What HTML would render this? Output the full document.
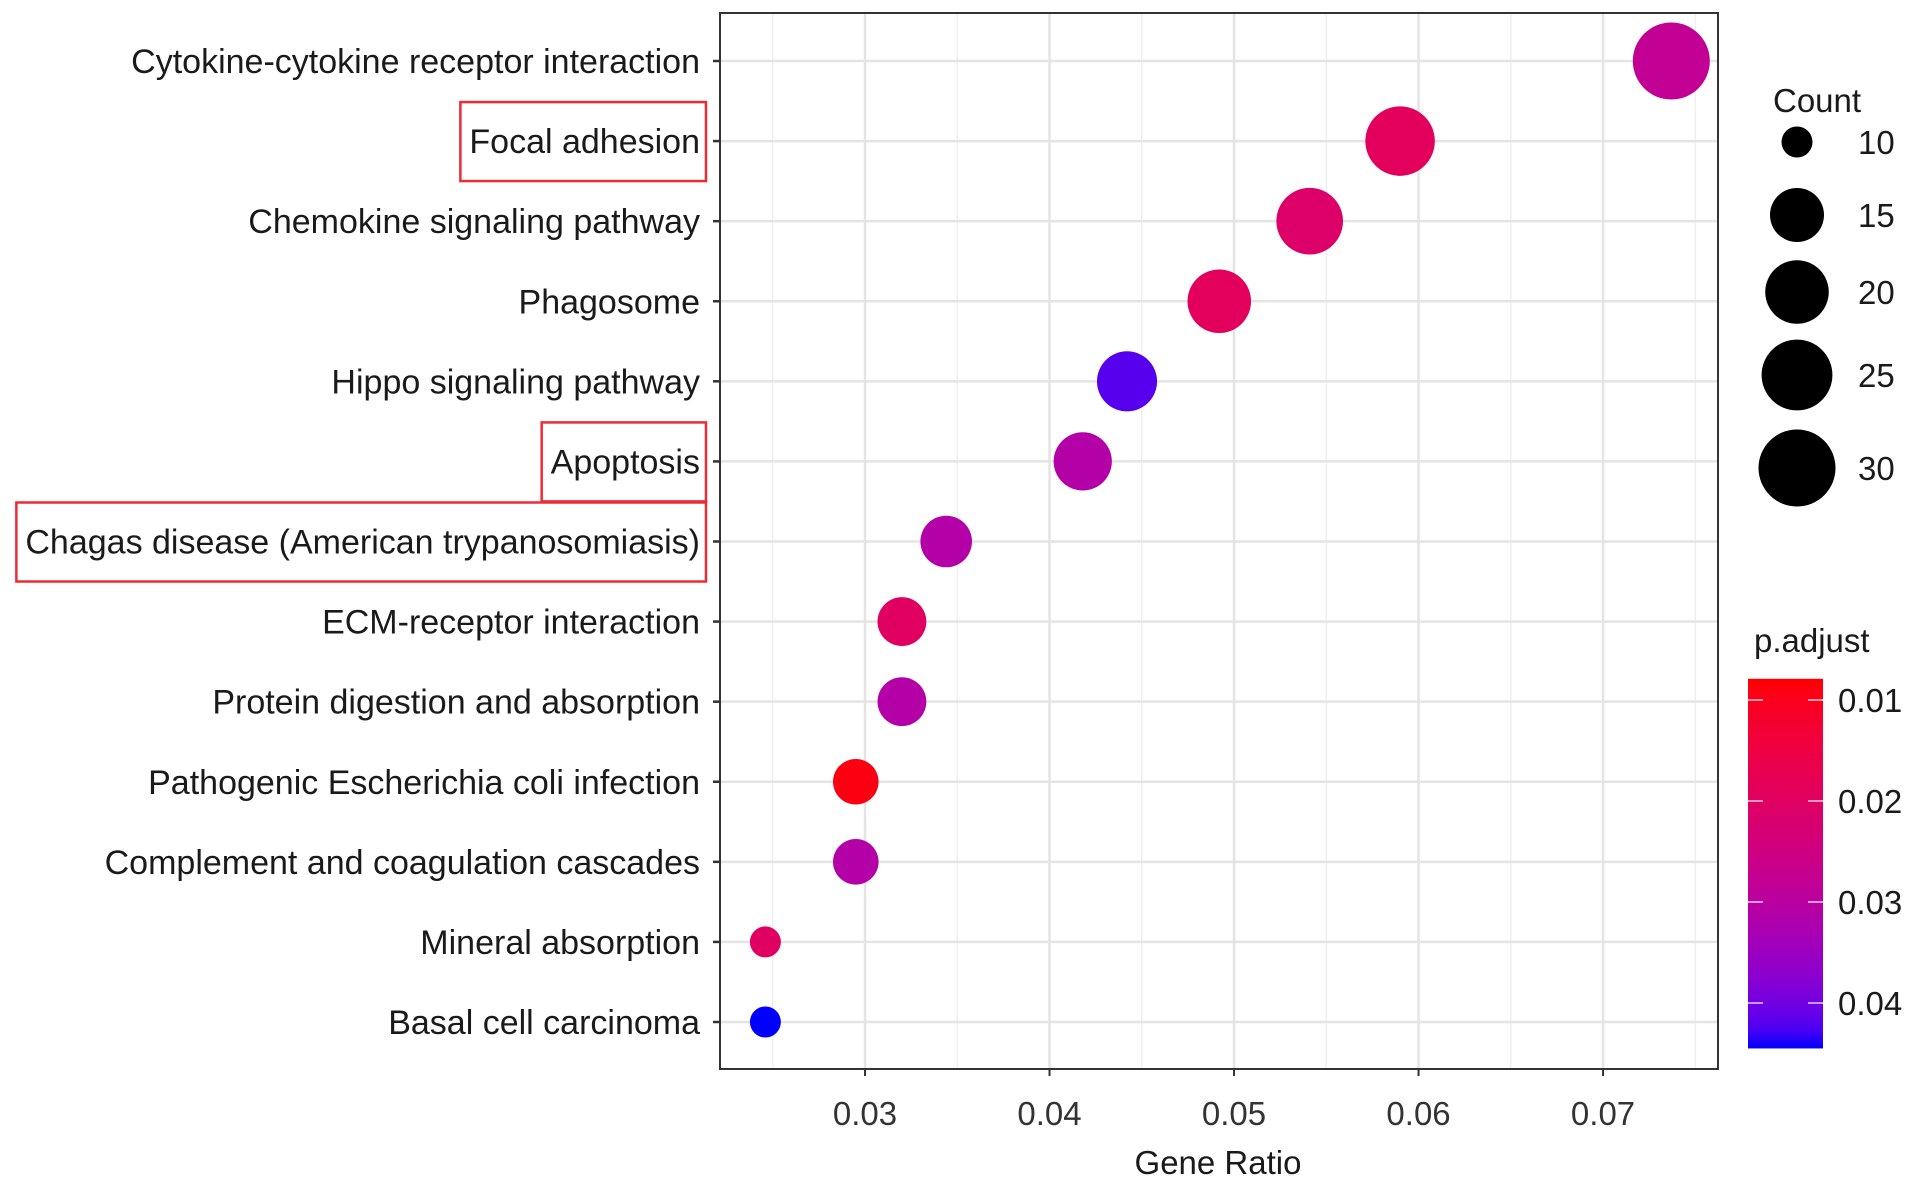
<!DOCTYPE html>
<html><head><meta charset="utf-8"><style>
html,body{margin:0;padding:0;background:#fff;}
svg{display:block;font-family:"Liberation Sans",sans-serif;}
</style></head><body>
<svg id="chart" width="1913" height="1187" viewBox="0 0 1913 1187"></svg>
<script>
const categories = ["Cytokine-cytokine receptor interaction","Focal adhesion","Chemokine signaling pathway","Phagosome","Hippo signaling pathway","Apoptosis","Chagas disease (American trypanosomiasis)","ECM-receptor interaction","Protein digestion and absorption","Pathogenic Escherichia coli infection","Complement and coagulation cascades","Mineral absorption","Basal cell carcinoma"];
const geneRatio = [0.0737,0.0590,0.0541,0.0492,0.0442,0.0418,0.0344,0.0320,0.0320,0.0295,0.0295,0.0246,0.0246];
const counts = [30,24,22,20,18,17,14,13,13,12,12,10,10];
const pAdjust = [0.028,0.019,0.021,0.019,0.042,0.031,0.031,0.020,0.031,0.009,0.031,0.020,0.0445];
const highlighted = ["Focal adhesion","Apoptosis","Chagas disease (American trypanosomiasis)"];
const xTicks = [0.03,0.04,0.05,0.06,0.07];
const xTickLabels = ["0.03","0.04","0.05","0.06","0.07"];
const countBreaks = [10,15,20,25,30];
const pBreaks = [0.01,0.02,0.03,0.04];
const pBreakLabels = ["0.01","0.02","0.03","0.04"];

const NS="http://www.w3.org/2000/svg";
const svg=document.getElementById('chart');
const P={l:720,r:1718,t:13,b:1069};
const xMin=0.02214,xMax=0.07623;
const xS=v=>P.l+(v-xMin)/(xMax-xMin)*(P.r-P.l);
const yS=i=>61+i*(1022-61)/(categories.length-1);
const cMin=10,cMax=30,rMin=15.5,rMax=38.5;
const rS=c=>rMin+(rMax-rMin)*Math.sqrt(Math.max(0,(c-cMin)/(cMax-cMin)));
const pLo=0.0079,pHi=0.0445;
const pyS=p=>700+(p-0.01)/0.01*101;
function toLab(r,g,b){const f=c=>{c/=255;return c>0.04045?Math.pow((c+0.055)/1.055,2.4):c/12.92};r=f(r);g=f(g);b=f(b);
let X=(r*0.4124+g*0.3576+b*0.1805)/0.95047,Y=r*0.2126+g*0.7152+b*0.0722,Z=(r*0.0193+g*0.1192+b*0.9505)/1.08883;
const h=t=>t>0.008856?Math.cbrt(t):7.787*t+16/116;X=h(X);Y=h(Y);Z=h(Z);return[116*Y-16,500*(X-Y),200*(Y-Z)];}
function fromLab(L,a,bb){let Y=(L+16)/116,X=a/500+Y,Z=Y-bb/200;const h=t=>t*t*t>0.008856?t*t*t:(t-16/116)/7.787;
X=h(X)*0.95047;Y=h(Y);Z=h(Z)*1.08883;let r=X*3.2406+Y*-1.5372+Z*-0.4986,g=X*-0.9689+Y*1.8758+Z*0.0415,b=X*0.0557+Y*-0.2040+Z*1.0570;
const f=c=>{c=c>0.0031308?1.055*Math.pow(c,1/2.4)-0.055:12.92*c;return Math.round(Math.max(0,Math.min(1,c))*255)};return `rgb(${f(r)},${f(g)},${f(b)})`;}
const LR=toLab(255,0,0),LB=toLab(0,0,255);
function colS(p){const t=Math.max(0,Math.min(1,(p-pLo)/(pHi-pLo)));return fromLab(LR[0]+(LB[0]-LR[0])*t,LR[1]+(LB[1]-LR[1])*t,LR[2]+(LB[2]-LR[2])*t);}
function el(tag,attrs,parent){const e=document.createElementNS(NS,tag);for(const k in attrs)e.setAttribute(k,attrs[k]);(parent||svg).appendChild(e);return e;}

const bg=el('rect',{x:P.l,y:P.t,width:P.r-P.l,height:P.b-P.t,fill:'#fff'});


for(let i=0;i<xTicks.length+1;i++){const v=xTicks[0]-0.005+i*0.01;const x=xS(v);if(x<P.l||x>P.r)continue;
const g=el('line',{x1:x,x2:x,y1:P.t,y2:P.b,stroke:'#f0f0f0','stroke-width':1.5});

}
xTicks.forEach((v,i)=>{const x=xS(v);
const g=el('line',{x1:x,x2:x,y1:P.t,y2:P.b,stroke:'#e4e4e4','stroke-width':2.5});


const tk=el('line',{x1:x,x2:x,y1:P.b,y2:P.b+7,stroke:'#333','stroke-width':2});


const t=el('text',{x:x,y:1125,'text-anchor':'middle','font-size':33,fill:'#333'});t.textContent=xTickLabels[i];

});
categories.forEach((c,i)=>{const y=yS(i);
const g=el('line',{x1:P.l,x2:P.r,y1:y,y2:y,stroke:'#e4e4e4','stroke-width':2.5});


const tk=el('line',{x1:P.l-7,x2:P.l,y1:y,y2:y,stroke:'#333','stroke-width':2.5});


const t=el('text',{x:700,y:y+12,'text-anchor':'end','font-size':34,fill:'#1a1a1a'});t.textContent=c;


const w=t.getComputedTextLength();
if(w>680)t.setAttribute('textLength',680);
if(highlighted.includes(c)){const ww=Math.min(w,680);
const b=el('rect',{x:700-ww-9,y:y-39,width:ww+15,height:79,fill:'none',stroke:'#ee2a35','stroke-width':2.5});

}});
categories.forEach((c,i)=>{const d=el('circle',{cx:xS(geneRatio[i]),cy:yS(i),r:rS(counts[i]),fill:colS(pAdjust[i])});

});
const br=el('rect',{x:P.l,y:P.t,width:P.r-P.l,height:P.b-P.t,fill:'none',stroke:'#333','stroke-width':2});


const xt=el('text',{x:1218,y:1174,'text-anchor':'middle','font-size':33,fill:'#1a1a1a'});xt.textContent='Gene Ratio';


const st=el('text',{x:1773,y:112,'font-size':33,fill:'#1a1a1a'});st.textContent='Count';


const legY=[142,215,292,375,468];
countBreaks.forEach((c,i)=>{const ci=el('circle',{cx:1797,cy:legY[i],r:rS(c),fill:'#000'});


const t=el('text',{x:1858,y:legY[i]+12,'font-size':33,fill:'#1a1a1a'});t.textContent=String(c);

});
const ct=el('text',{x:1754,y:652,'font-size':33,fill:'#1a1a1a'});ct.textContent='p.adjust';


const defs=el('defs',{});const lg=el('linearGradient',{id:'pg',x1:0,y1:0,x2:0,y2:1},defs);
for(let k=0;k<=20;k++){el('stop',{offset:(k/20),'stop-color':colS(pLo+(pHi-pLo)*k/20)},lg);}
const cb=el('rect',{x:1748,y:pyS(pLo),width:75,height:pyS(pHi)-pyS(pLo),fill:'url(#pg)'});


pBreaks.forEach((p,i)=>{const y=pyS(p);
const a=el('line',{x1:1748,x2:1763,y1:y,y2:y,stroke:'#fff','stroke-width':1.5,opacity:0.8});


const b=el('line',{x1:1808,x2:1823,y1:y,y2:y,stroke:'#fff','stroke-width':1.5,opacity:0.8});


const t=el('text',{x:1838,y:y+12,'font-size':33,fill:'#1a1a1a'});t.textContent=pBreakLabels[i];

});
</script>
</body></html>
